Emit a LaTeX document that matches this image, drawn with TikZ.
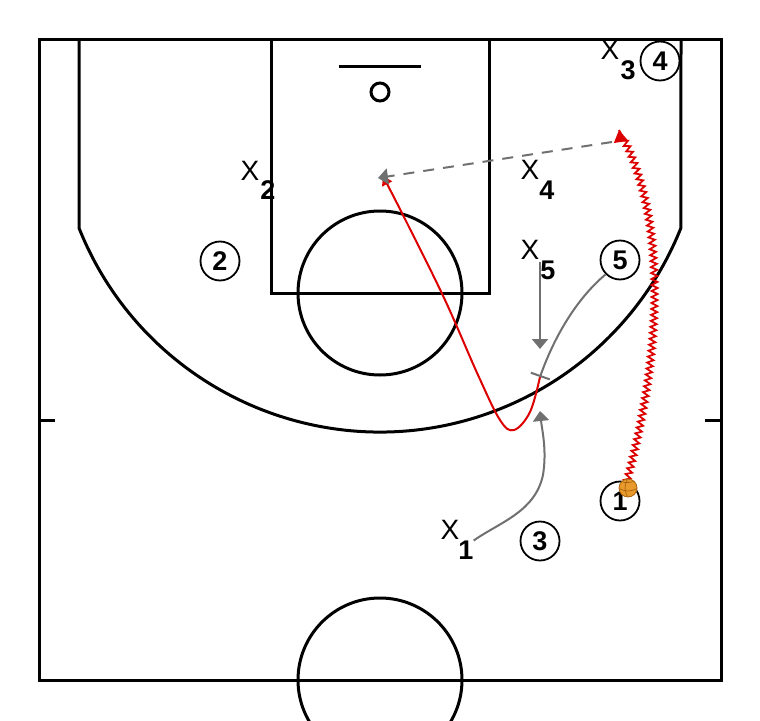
\documentclass[tikz,border=0pt]{standalone}
\usepackage{fontspec}
\setmainfont{Liberation Sans}
\usetikzlibrary{arrows.meta,decorations.pathmorphing}
\definecolor{arrowgray}{HTML}{707070}
\definecolor{playred}{HTML}{DD0000}
\definecolor{ballorange}{HTML}{E89A2C}
\definecolor{ballline}{HTML}{A86410}
\begin{document}
\begin{tikzpicture}[x=1pt,y=-1pt,
  court/.style={line width=3pt, draw=black},
  player/.style={circle, draw=black, line width=1.8pt, minimum size=39pt, inner sep=0pt, fill=white,
    font=\fontsize{27}{27}\selectfont\bfseries},
  defx/.style={inner sep=0pt, font=\fontsize{28}{28}\selectfont},
  defsub/.style={inner sep=0pt, font=\fontsize{27}{27}\selectfont\bfseries},
  grayarrow/.style={line width=2pt, draw=arrowgray, -{Triangle[width=16pt,length=10pt]}},
  redarrow/.style={line width=2pt, draw=playred, -{Triangle[width=11pt,length=9pt]}},
]
\useasboundingbox (0,0) rectangle (760,720);
\fill[white] (0,0) rectangle (760,720);
\begin{scope}
\clip (0,0) rectangle (760,720);
% court
\draw[court] (39,39) rectangle (721,680);
\draw[court] (271,39) rectangle (489,293);
\draw[court] (380,293) circle[radius=82];
\draw[court] (380,680) circle[radius=82];
\draw[court] (339,66) -- (421,66);
\draw[court] (380,92) circle[radius=9];
\draw[court] (79,39) -- (79,228) arc[start angle=158.26, end angle=21.74, radius=324] -- (681,39);
\draw[court] (39,420) -- (55,420);
\draw[court] (705,420) -- (721,420);
\end{scope}

% coordinates for movements
\coordinate (rim) at (378,178);
\coordinate (passfrom) at (612,142);
\coordinate (screen) at (540,377);
\coordinate (x5stop) at (540,349);
\coordinate (x1stop) at (540,411);
\coordinate (dribend) at (619,130);

% defenders
\node[defx] (x1) at (450,530) {X};
\node[defsub] (x1s) at (466,550) {1};
\node[defx] (x2) at (250,171) {X};
\node[defsub] (x2s) at (268,190) {2};
\node[defx] (x3) at (610,50) {X};
\node[defsub] (x3s) at (628,70) {3};
\node[defx] (x4) at (530,170) {X};
\node[defsub] (x4s) at (547,190) {4};
\node[defx] (x5) at (530,250) {X};
\node[defsub] (x5s) at (548,270) {5};

% offense
\node[player] (p1) at (620,501) {1};
\node[player] (p2) at (220,261) {2};
\node[player] (p3) at (540,541) {3};
\node[player] (p4) at (660,61) {4};
\node[player] (p5) at (620,260) {5};

% roll of 5 to the basket
\draw[redarrow] plot[smooth, tension=0.6] coordinates {(screen) (530,412) (514,430) (500,420) (478,375) (445,300) (408,225) (383,176)};

% pass
\draw[line width=2pt, draw=arrowgray, dash pattern=on 11pt off 9pt, -{Triangle[width=16pt,length=10pt]}] (passfrom) -- (rim);

% screen by 5
\draw[line width=2pt, draw=arrowgray, -{Bar[width=20pt,line width=2pt]}] (p5.south west) .. controls (575,300) and (553,340) .. (screen);

% X5 drop
\draw[grayarrow] (540,262) -- (x5stop);

% X1 movement
\draw[grayarrow] (x1s.north east) .. controls (500,522) and (535,512) .. (543,475) .. controls (547,450) and (542,430) .. (x1stop);

% dribble of 1
\draw[draw=playred, line width=1.8pt, decorate,
  decoration={zigzag, segment length=6pt, amplitude=3pt, post length=8pt, pre length=2pt}]
  (626,484) .. controls (655,380) and (675,230) .. (dribend);
\draw[draw=playred, line width=1.8pt, -{Triangle[width=14pt,length=12pt]}] (621,142) -- (dribend);

% ball
\node[circle, fill=ballorange, draw=ballline, line width=0.8pt, minimum size=18pt, inner sep=0pt] (ball) at (628,488) {};
\begin{scope}
\clip (ball.center) circle[radius=8.6];
\draw[ballline, line width=0.7pt] (ball.north) .. controls (624,485) and (624,491) .. (ball.south);
\draw[ballline, line width=0.7pt] (ball.west) .. controls (625,492) and (631,492) .. (ball.east);
\draw[ballline, line width=0.7pt] (ball.north west) .. controls (626,484) and (630,482) .. (ball.north east);
\end{scope}
\end{tikzpicture}
\end{document}
